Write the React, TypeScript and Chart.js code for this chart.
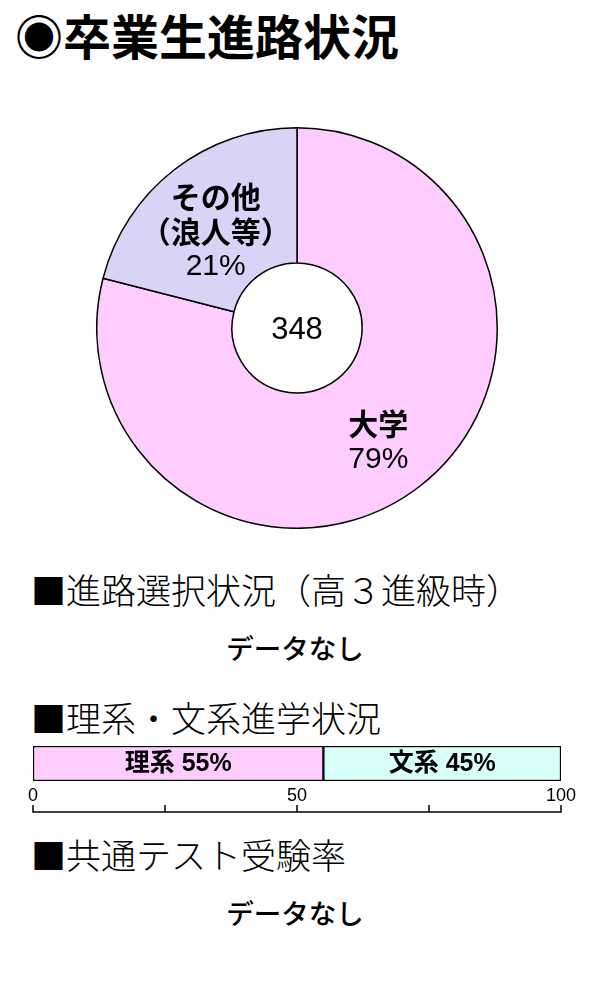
import { useEffect, useRef } from "react";
import { Chart, registerables } from "chart.js";

Chart.register(...registerables);

const JP = '"Noto Sans CJK JP", sans-serif';
const NUM = '"Liberation Sans", "Noto Sans CJK JP", sans-serif';

// 卒業生進路状況 (doughnut)
const courseLabels = ["大学", "その他"];
const courseSubLabels = [[], ["（浪人等）"]];
const courseValues = [79, 21];
const courseColors = ["#ffccff", "#d9d3f8"];
const graduateTotal = 348;

// 理系・文系進学状況 (stacked bar)
const fieldLabels = ["理系", "文系"];
const fieldValues = [55, 45];
const fieldColors = ["#ffccff", "#d9fff9"];
const axisTicks = [0, 25, 50, 75, 100];
const axisTickLabels = ["0", "", "50", "", "100"];

function CourseDoughnut() {
  const chartRef = useRef<HTMLCanvasElement>(null);
  const chartInstance = useRef<Chart | null>(null);

  useEffect(() => {
    if (!chartRef.current) return;
    if (chartInstance.current) chartInstance.current.destroy();
    const ctx = chartRef.current.getContext("2d");
    if (!ctx) return;

    const labelPlugin = {
      id: "courseLabels",
      afterDraw(chart: Chart) {
        const c = chart.ctx;
        const meta = chart.getDatasetMeta(0);
        c.save();
        c.fillStyle = "#000";
        c.textAlign = "center";
        c.textBaseline = "middle";
        meta.data.forEach((arc: any, i: number) => {
          const pos = arc.tooltipPosition();
          const lines = [courseLabels[i], ...courseSubLabels[i]];
          const pct = courseValues[i] + "%";
          const step = 35;
          const count = lines.length + 1;
          let y = pos.y + 8 - ((count - 1) * step) / 2;
          c.font = `bold 30px ${JP}`;
          lines.forEach((line) => {
            c.fillText(line, pos.x, y);
            y += step;
          });
          c.font = `30px ${NUM}`;
          c.fillText(pct, pos.x, y + 1);
        });
        const { left, right, top, bottom } = chart.chartArea;
        c.font = `31px ${NUM}`;
        c.fillText(String(graduateTotal), (left + right) / 2, (top + bottom) / 2 + 2);
        c.restore();
      },
    };

    chartInstance.current = new Chart(ctx, {
      type: "doughnut",
      data: {
        labels: courseLabels,
        datasets: [
          {
            data: courseValues,
            backgroundColor: courseColors,
            borderColor: "#000",
            borderWidth: 1.5,
            hoverOffset: 0,
          },
        ],
      },
      options: {
        animation: false,
        responsive: false,
        cutout: "32.5%",
        events: [],
        layout: { padding: 0 },
        plugins: {
          legend: { display: false },
          tooltip: { enabled: false },
        },
      },
      plugins: [labelPlugin],
    });

    return () => {
      if (chartInstance.current) chartInstance.current.destroy();
    };
  }, []);

  return (
    <canvas
      ref={chartRef}
      width={402}
      height={402}
      style={{ position: "absolute", left: 96, top: 127, width: 402, height: 402 }}
    />
  );
}

function FieldBar() {
  const chartRef = useRef<HTMLCanvasElement>(null);
  const chartInstance = useRef<Chart | null>(null);

  useEffect(() => {
    if (!chartRef.current) return;
    if (chartInstance.current) chartInstance.current.destroy();
    const ctx = chartRef.current.getContext("2d");
    if (!ctx) return;

    const axisPlugin = {
      id: "fieldAxis",
      afterDraw(chart: Chart) {
        const c = chart.ctx;
        const x = chart.scales.x;
        c.save();
        c.fillStyle = "#000";
        c.textAlign = "center";
        c.textBaseline = "middle";
        // segment labels
        c.font = `bold 25px ${NUM}`;
        chart.data.datasets.forEach((ds, i) => {
          const bar: any = chart.getDatasetMeta(i).data[0];
          const cx = (bar.x + bar.base) / 2;
          c.fillText(`${fieldLabels[i]} ${ds.data[0]}%`, cx, bar.y + 1);
        });
        // axis below the bar
        const lineY = 82;
        c.strokeStyle = "#000";
        c.lineWidth = 1.5;
        c.beginPath();
        c.moveTo(x.getPixelForValue(axisTicks[0]), lineY);
        c.lineTo(x.getPixelForValue(axisTicks[axisTicks.length - 1]), lineY);
        axisTicks.forEach((t) => {
          const px = x.getPixelForValue(t);
          c.moveTo(px, lineY + 0.75);
          c.lineTo(px, lineY - 7);
        });
        c.stroke();
        c.font = `18px ${NUM}`;
        axisTicks.forEach((t, i) => {
          if (axisTickLabels[i]) c.fillText(axisTickLabels[i], x.getPixelForValue(t), 66);
        });
        c.restore();
      },
    };

    chartInstance.current = new Chart(ctx, {
      type: "bar",
      data: {
        labels: [""],
        datasets: fieldLabels.map((label, i) => ({
          label,
          data: [fieldValues[i]],
          backgroundColor: fieldColors[i],
          borderColor: "#000",
          borderWidth: 1.5,
          borderSkipped: false,
          categoryPercentage: 1,
          barPercentage: 1,
        })),
      },
      options: {
        animation: false,
        responsive: false,
        indexAxis: "y",
        events: [],
        layout: { padding: { left: 33, right: 39, top: 16, bottom: 39 } },
        scales: {
          x: { stacked: true, min: 0, max: 100, display: false },
          y: { stacked: true, display: false },
        },
        plugins: {
          legend: { display: false },
          tooltip: { enabled: false },
        },
      },
      plugins: [axisPlugin],
    });

    return () => {
      if (chartInstance.current) chartInstance.current.destroy();
    };
  }, []);

  return (
    <canvas
      ref={chartRef}
      width={600}
      height={90}
      style={{ position: "absolute", left: 0, top: 730, width: 600, height: 90 }}
    />
  );
}

const textBase: React.CSSProperties = {
  position: "absolute",
  margin: 0,
  fontFamily: JP,
  color: "#000",
  whiteSpace: "nowrap",
  lineHeight: 1,
};

export default function App() {
  useEffect(() => {
    document.body.style.margin = "0";
  }, []);

  return (
    <div style={{ position: "relative", width: 600, height: 1000, background: "#fff" }}>
      <div style={{ ...textBase, left: 15, top: 10, fontSize: 48, fontWeight: 700 }}>◉卒業生進路状況</div>
      <CourseDoughnut />
      <div style={{ ...textBase, left: 31, top: 571, fontSize: 35, fontWeight: 300 }}>■進路選択状況（高３進級時）</div>
      <div style={{ ...textBase, left: 0, width: 590, textAlign: "center", top: 634, fontSize: 27.5, fontWeight: 500 }}>データなし</div>
      <div style={{ ...textBase, left: 31, top: 699, fontSize: 35, fontWeight: 300 }}>■理系・文系進学状況</div>
      <FieldBar />
      <div style={{ ...textBase, left: 31, top: 836, fontSize: 35, fontWeight: 300 }}>■共通テスト受験率</div>
      <div style={{ ...textBase, left: 0, width: 590, textAlign: "center", top: 899, fontSize: 27.5, fontWeight: 500 }}>データなし</div>
    </div>
  );
}
